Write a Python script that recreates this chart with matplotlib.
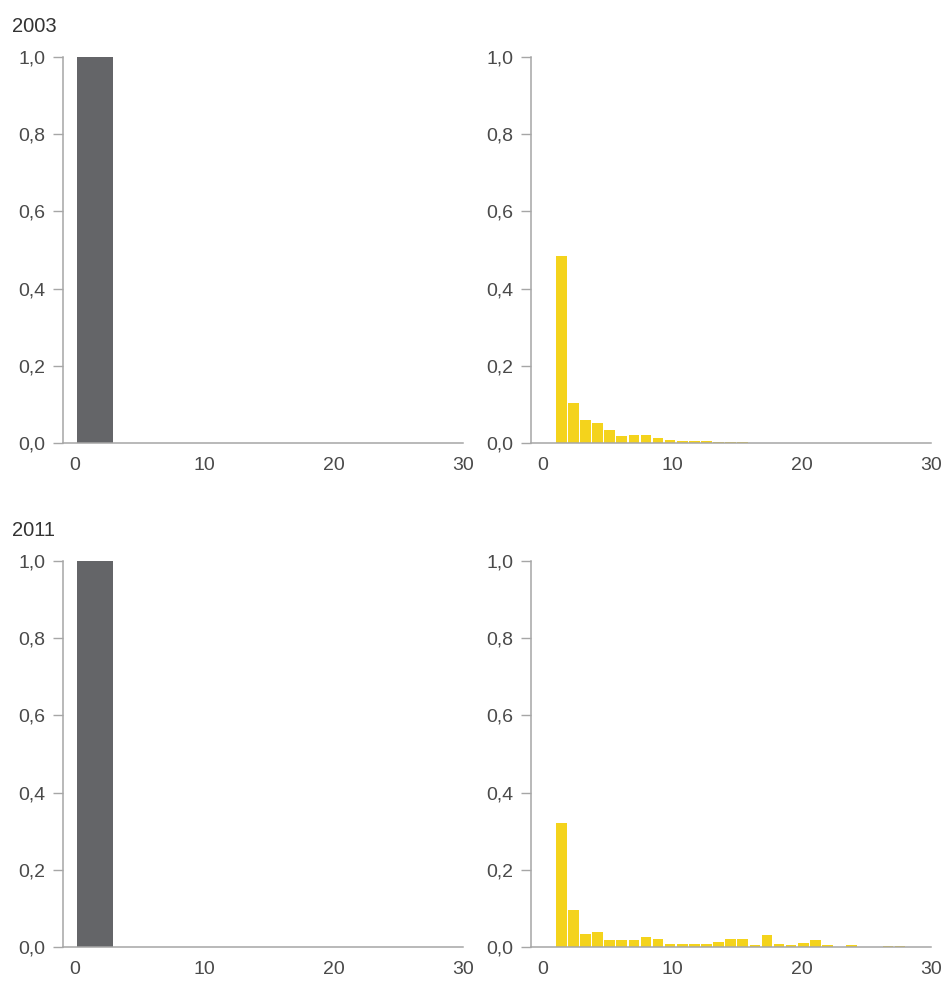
import numpy as np
import matplotlib.pyplot as plt

# ---- data ----
years = ['2003', '2011']

# grey panel: one bar covering the first bins
grey_left = 0.15
grey_width = 2.8
grey_value = 1.0

# yellow panels: 31 equal bins between 1 and 30
bin_edges = np.linspace(1, 30, 32)
yellow_2003 = [0.484, 0.103, 0.060, 0.053, 0.034, 0.019, 0.021, 0.021, 0.012, 0.008,
               0.005, 0.004, 0.004, 0.003, 0.003, 0.002, 0.001, 0.001, 0.001, 0.001,
               0.001, 0.001, 0.0, 0.0, 0.0, 0.0, 0.0, 0.0, 0.0, 0.0, 0.0]
yellow_2011 = [0.322, 0.096, 0.034, 0.040, 0.019, 0.017, 0.017, 0.025, 0.021, 0.009,
               0.009, 0.009, 0.009, 0.012, 0.021, 0.021, 0.004, 0.032, 0.009, 0.006,
               0.011, 0.019, 0.005, 0.001, 0.004, 0.0, 0.0, 0.003, 0.003, 0.0, 0.0]
yellow = [yellow_2003, yellow_2011]

yticks = [0.0, 0.2, 0.4, 0.6, 0.8, 1.0]
xticks = [0, 10, 20, 30]

GREY = '#646568'
YELLOW = '#f4d31c'
AXIS = '#a6a6a6'
TEXT = '#4a4a4a'
FONT = ['Liberation Sans Narrow', 'Liberation Sans', 'DejaVu Sans']

plt.rcParams['font.family'] = FONT

fig = plt.figure(figsize=(9.44, 10.08), dpi=100)

W, H = 944.0, 1008.0
rows = [(57, 443), (561, 947)]      # pixel y of 1.0 and 0.0
cols = [(63, 463), (531, 931)]      # pixel x of left spine and x=30


def style(ax):
    ax.set_xlim(-0.93, 30)
    ax.set_ylim(0, 1.0)
    ax.set_yticks(yticks)
    ax.set_yticklabels([('%.1f' % v).replace('.', ',') for v in yticks])
    ax.set_xticks(xticks)
    ax.set_xticklabels([str(v) for v in xticks])
    for s in ['top', 'right']:
        ax.spines[s].set_visible(False)
    for s in ['left', 'bottom']:
        ax.spines[s].set_color(AXIS)
        ax.spines[s].set_linewidth(1.1)
    ax.tick_params(axis='y', length=7.5, width=1.0, color=AXIS, pad=5,
                   labelsize=14, labelcolor=TEXT)
    ax.tick_params(axis='x', length=0, pad=10, labelsize=14, labelcolor=TEXT)


for r, (ytop, ybot) in enumerate(rows):
    for c, (xl, xr) in enumerate(cols):
        ax = fig.add_axes([xl / W, 1 - ybot / H, (xr - xl) / W, (ybot - ytop) / H])
        if c == 0:
            ax.bar(grey_left, grey_value, width=grey_width, align='edge',
                   color=GREY, linewidth=0)
        else:
            widths = np.diff(bin_edges)
            ax.bar(bin_edges[:-1], yellow[r], width=widths * 0.88, align='edge',
                   color=YELLOW, linewidth=0)
        style(ax)
    fig.text(12 / W, 1 - (ytop - 31) / H, years[r], fontsize=14.5,
             color='#333333', ha='left', va='center', family=['Liberation Sans', 'DejaVu Sans'])

fig.savefig('out.png', dpi=100, facecolor='white')
